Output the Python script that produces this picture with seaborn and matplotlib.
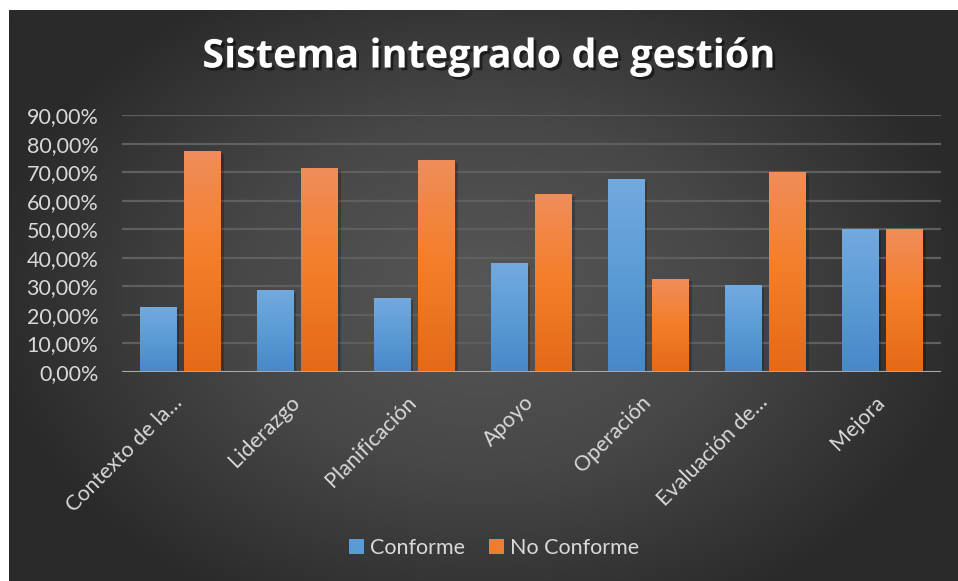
import numpy as np
import pandas as pd
import matplotlib
matplotlib.use("Agg")
import matplotlib.pyplot as plt
import matplotlib.patheffects as pe
import matplotlib.transforms as mtrans
from matplotlib.colors import LinearSegmentedColormap
import seaborn as sns

categories = ["Contexto de la…", "Liderazgo", "Planificación", "Apoyo",
              "Operación", "Evaluación de…", "Mejora"]
conforme = [22.73, 28.57, 25.93, 37.93, 67.4, 30.2, 50.0]
no_conforme = [77.27, 71.43, 74.07, 62.07, 32.6, 69.8, 50.0]
series_names = ["Conforme", "No Conforme"]
yticks = [0, 10, 20, 30, 40, 50, 60, 70, 80, 90]
title = "Sistema integrado de gestión"

df = pd.DataFrame({
    "cat": categories * 2,
    "val": conforme + no_conforme,
    "serie": [series_names[0]] * len(categories) + [series_names[1]] * len(categories),
})

sns.set_theme(style="dark")
plt.rcParams['font.family'] = ['Lato', 'DejaVu Sans']

W, H = 958, 581
fig = plt.figure(figsize=(W / 100, H / 100), dpi=100, facecolor="white")

# background radial gradient
bg = fig.add_axes([9 / W, 0, 1 - 9 / W, 1 - 10 / H], zorder=-10)
xx, yy = np.meshgrid(np.linspace(-1, 1, 600), np.linspace(-1, 1, 400))
r = np.sqrt((xx / 1.05) ** 2 + (yy / 1.25) ** 2)
r = np.clip(r, 0, 1)
bgcmap = LinearSegmentedColormap.from_list("bg", ["#575757", "#474747", "#2a2a2a"])
bg.imshow(r, cmap=bgcmap, aspect="auto", extent=[0, 1, 0, 1], vmin=0, vmax=1)
bg.set_axis_off()

ax = fig.add_axes([122 / W, (581 - 372) / H, (941 - 122) / W, (372 - 115.3) / H])
ax.patch.set_alpha(0)

palette = {series_names[0]: "#5b9bd5", series_names[1]: "#ed7d31"}
sns.barplot(data=df, x="cat", y="val", hue="serie", palette=palette, ax=ax,
            width=0.768, gap=0.177, saturation=1, legend=True, linewidth=0)

ax.set_ylim(0, 90)
ax.set_xlim(-0.5, len(categories) - 0.5)
ax.set_yticks(yticks)
ax.set_yticklabels([f"{v:.2f}".replace(".", ",") + "%" for v in yticks])
ax.yaxis.grid(True, color="#5f5f5f", linewidth=1.6)
ax.xaxis.grid(False)
ax.set_axisbelow(True)
for s in ax.spines.values():
    s.set_visible(False)
ax.axhline(0, color="#a8a8a8", linewidth=2.2, zorder=5)
ax.set_xlabel("")
ax.set_ylabel("")
ax.tick_params(axis="y", colors="#d9d9d9", labelsize=15.5, length=0, pad=17)
ax.tick_params(axis="x", colors="#d9d9d9", labelsize=15.5, length=0, pad=19.5)
off = mtrans.ScaledTranslation(-1 / 100, 0, fig.dpi_scale_trans)
for lab in ax.get_xticklabels():
    lab.set_rotation(45)
    lab.set_ha("right")
    lab.set_va("center")
    lab.set_rotation_mode("anchor")
    lab.set_transform(lab.get_transform() + off)

blue_cmap = LinearSegmentedColormap.from_list("b", ["#4788c8", "#5b9bd5", "#73aadf"])
orange_cmap = LinearSegmentedColormap.from_list("o", ["#e36a18", "#f47e27", "#f08d5a"])
grad = np.linspace(0, 1, 256).reshape(-1, 1)
bars = [p for p in ax.patches if p.get_height() > 0]
for p in bars:
    x0, y0 = p.get_x(), p.get_y()
    w, h = p.get_width(), p.get_height()
    fc = p.get_facecolor()
    cmap = blue_cmap if fc[2] > fc[0] else orange_cmap
    p.set_path_effects([pe.SimplePatchShadow(offset=(2, -1.5), shadow_rgbFace="black", alpha=0.22), pe.Normal()])
    p.set_zorder(2)
    ax.imshow(grad, cmap=cmap, origin="lower", aspect="auto",
              extent=[x0, x0 + w, y0, y0 + h], zorder=3)
ax.set_ylim(0, 90)
ax.set_xlim(-0.5, len(categories) - 0.5)

leg = ax.get_legend()
handles = leg.legend_handles
ax.legend(handles=handles, labels=series_names, loc="center",
          bbox_to_anchor=(0.5 + 15 / W, 1 - 548 / H), bbox_transform=fig.transFigure,
          ncol=2, frameon=False, fontsize=15.5, labelcolor="#d9d9d9",
          handlelength=0.7, handleheight=0.7, handletextpad=0.25, columnspacing=1.15)

fig.text(0.5 + 10 / W, 1 - 57 / H, title, ha="center", va="center", color="white",
         fontsize=28.5, fontweight="bold", family=["Open Sans", "DejaVu Sans"],
         path_effects=[pe.withSimplePatchShadow(offset=(2, -2), shadow_rgbFace="black", alpha=0.5)])

fig.savefig("out.png", dpi=100, facecolor="white")
